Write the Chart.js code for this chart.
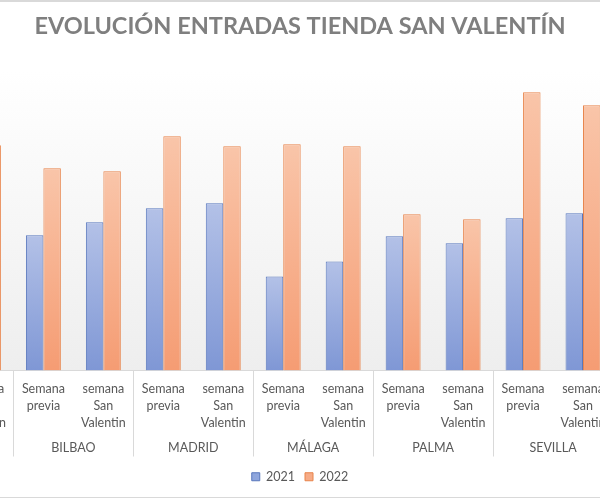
<!DOCTYPE html>
<html>
<head>
<meta charset="utf-8">
<script src="https://cdn.jsdelivr.net/npm/chart.js@4/dist/chart.umd.min.js"></script>
<style>
  html, body { margin: 0; padding: 0; background: #ffffff; }
  #wrap { position: relative; width: 600px; height: 500px; overflow: hidden; background: #ffffff; }
  #wrap canvas { position: absolute; left: -49px; top: 0; }
  #lineTop { position: absolute; left: 0; top: 0; width: 600px; height: 2px; background: #d9d9d9; }
  #lineBottom { position: absolute; left: 0; top: 497px; width: 600px; height: 1px; background: #d9d9d9; }
</style>
</head>
<body>
<div id="wrap">
  <canvas id="c" width="698" height="500"></canvas>
  <div id="lineTop"></div>
  <div id="lineBottom"></div>
</div>
<script>
// ---- data ----
const titleText = "EVOLUCIÓN ENTRADAS TIENDA SAN VALENTÍN";
const cities = ["BILBAO", "MADRID", "MÁLAGA", "PALMA", "SEVILLA"];
const weeks = ["Semana previa", "semana San Valentin"];
const seriesNames = ["2021", "2022"];
// first category is the cut-off "semana San Valentin" of the preceding city (only its 2022 bar is visible)
const values2021 = [null, 135, 148, 162, 167, 94, 109, 134, 127, 152, 157];
const values2022 = [225, 202, 199, 234, 224, 226, 224, 156, 151, 278, 265];

// build categories
const categoryLabels = [weeks[1]];
const categoryCity = [""];
cities.forEach(c => { weeks.forEach(w => { categoryLabels.push(w); categoryCity.push(c); }); });
const tickLines = categoryLabels.map(l => l === "Semana previa" ? ["Semana", "previa"] : ["semana", "San", "Valentin"]);

const FONT = "Lato, 'Open Sans', sans-serif";
const TEXT = "#595959";

const palette = {
  "2021": { top: "#b3c1e7", bottom: "#7f97d5", border: "#5877bd", solid: "#8fa6dd" },
  "2022": { top: "#f9c5a9", bottom: "#f59c73", border: "#e8844b", solid: "#f6ab87" }
};

function barGradient(name) {
  return function (ctx) {
    const chart = ctx.chart;
    const p = palette[name];
    if (!chart.chartArea || ctx.type !== 'data' || ctx.parsed == null || ctx.parsed.y == null) return p.solid;
    const y = chart.scales.y;
    const top = y.getPixelForValue(ctx.parsed.y);
    const bottom = y.getPixelForValue(0);
    if (!isFinite(top) || !isFinite(bottom) || bottom - top < 1) return p.solid;
    const g = chart.ctx.createLinearGradient(0, top, 0, bottom);
    g.addColorStop(0, p.top);
    g.addColorStop(1, p.bottom);
    return g;
  };
}

const bgPlugin = {
  id: 'plotBg',
  beforeDraw(chart) {
    const { ctx, chartArea } = chart;
    if (!chartArea) return;
    const g = ctx.createLinearGradient(0, chartArea.top, 0, chartArea.bottom);
    g.addColorStop(0, '#ffffff');
    g.addColorStop(1, '#eeeeee');
    ctx.save();
    ctx.fillStyle = g;
    ctx.fillRect(0, chartArea.top, chart.width, chartArea.bottom - chartArea.top);
    ctx.restore();
  }
};

const cityPlugin = {
  id: 'cityLevel',
  afterDraw(chart) {
    const { ctx, chartArea } = chart;
    const x = chart.scales.x;
    const half = (x.getPixelForValue(1) - x.getPixelForValue(0)) / 2;
    ctx.save();
    // dividers between cities
    ctx.strokeStyle = '#d9d9d9';
    ctx.lineWidth = 1;
    for (let i = 0; i < categoryLabels.length; i++) {
      const next = categoryCity[i + 1];
      if (next === undefined || next !== categoryCity[i]) {
        const px = Math.round(x.getPixelForValue(i) + half) + 0.5;
        ctx.beginPath();
        ctx.moveTo(px, chartArea.bottom);
        ctx.lineTo(px, chartArea.bottom + 86);
        ctx.stroke();
      }
    }
    // city names
    ctx.fillStyle = TEXT;
    ctx.font = "12.5px " + FONT;
    ctx.textAlign = 'center';
    ctx.textBaseline = 'middle';
    cities.forEach(c => {
      const idx = categoryCity.map((v, i) => v === c ? i : -1).filter(i => i >= 0);
      const cx = (x.getPixelForValue(idx[0]) + x.getPixelForValue(idx[idx.length - 1])) / 2;
      ctx.fillText(c, cx, chartArea.bottom + 77);
    });
    ctx.restore();
  }
};

new Chart(document.getElementById('c'), {
  type: 'bar',
  data: {
    labels: tickLines,
    datasets: [
      {
        label: seriesNames[0],
        data: values2021,
        backgroundColor: barGradient("2021"),
        borderColor: palette["2021"].border,
        borderWidth: 1
      },
      {
        label: seriesNames[1],
        data: values2022,
        backgroundColor: barGradient("2022"),
        borderColor: palette["2022"].border,
        borderWidth: 1
      }
    ]
  },
  options: {
    responsive: false,
    animation: false,
    layout: { padding: { left: 0, right: 0, top: 0, bottom: 7 } },
    datasets: { bar: { categoryPercentage: 0.583, barPercentage: 1.0 } },
    plugins: {
      title: {
        display: true,
        text: titleText,
        color: '#7f7f7f',
        font: { family: FONT, size: 23.5, weight: 'bold' },
        padding: { top: 12, bottom: 30 }
      },
      legend: {
        position: 'bottom',
        labels: {
          boxWidth: 8,
          boxHeight: 8,
          padding: 10,
          color: TEXT,
          font: { family: FONT, size: 12.5 },
          generateLabels(chart) {
            return chart.data.datasets.map((d, i) => ({
              text: d.label,
              fillStyle: palette[d.label].solid,
              strokeStyle: palette[d.label].border,
              lineWidth: 1,
              datasetIndex: i,
              fontColor: TEXT
            }));
          }
        }
      },
      tooltip: { enabled: false }
    },
    scales: {
      x: {
        grid: { display: false, drawTicks: false },
        border: { display: true, color: '#d9d9d9', width: 1 },
        ticks: {
          autoSkip: false,
          maxRotation: 0,
          minRotation: 0,
          color: TEXT,
          padding: 10,
          font: { family: FONT, size: 12.5, lineHeight: 1.36 }
        },
        afterFit(scale) { scale.height = 90; }
      },
      y: {
        position: 'right',
        min: 0,
        max: 300,
        display: true,
        grid: { display: false, drawTicks: false },
        border: { display: false },
        ticks: { display: false },
        afterFit(scale) { scale.width = 36; }
      }
    }
  },
  plugins: [bgPlugin, cityPlugin]
});
</script>
</body>
</html>
